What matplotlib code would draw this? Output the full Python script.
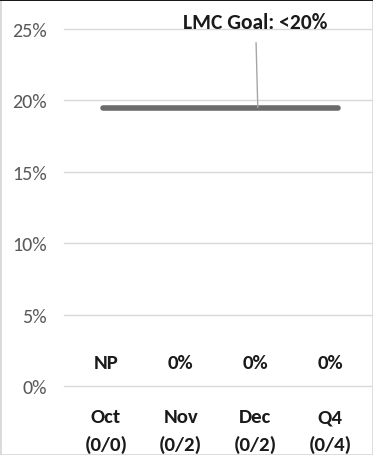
import matplotlib
matplotlib.use("Agg")
import matplotlib.pyplot as plt
from matplotlib.patches import Rectangle

# Monthly rates with numerator/denominator counts
months = ["Oct", "Nov", "Dec", "Q4"]
counts = ["(0/0)", "(0/2)", "(0/2)", "(0/4)"]
value_labels = ["NP", "0%", "0%", "0%"]
rates = [None, 0, 0, 0]
goal_value = 19.5
goal_text = "LMC Goal: <20%"
yticks = [0, 5, 10, 15, 20, 25]

plt.rcParams["font.family"] = ["Carlito", "DejaVu Sans"]

fig = plt.figure(figsize=(3.73, 4.56), dpi=100)
ax = fig.add_axes([64 / 373, 1 - 387 / 456, 1 - 64 / 373, 357 / 456])

x = list(range(len(months)))
ax.set_xlim(-0.56, 3.57)
ax.set_ylim(0, 25)

for t in yticks:
    ax.axhline(t, color="#d9d9d9", lw=1.0, zorder=0, clip_on=False)

ax.set_yticks(yticks)
ax.set_yticklabels([f"{t}%" for t in yticks], color="#595959", fontsize=14.5)
ax.tick_params(axis="y", length=0, pad=12.5)
ax.set_xticks(x)
ax.set_xticklabels([f"{m}\n{c}" for m, c in zip(months, counts)],
                   fontweight="bold", fontsize=15, color="#1a1a1a", linespacing=1.62)
ax.tick_params(axis="x", length=0, pad=16)
for s in ax.spines.values():
    s.set_visible(False)

# Goal line across the months
ax.plot([-0.04, 3.1], [goal_value, goal_value], color="#6b6b6b", lw=4,
        solid_capstyle="round", zorder=3)
ax.annotate(goal_text, xy=(2.03, goal_value), xytext=(2.0, 25.05),
            ha="center", va="baseline", fontsize=15.5, fontweight="bold", color="#1a1a1a",
            arrowprops=dict(arrowstyle="-", color="#a6a6a6", lw=1,
                            shrinkA=5.5, shrinkB=0), annotation_clip=False)

# Value labels above the baseline
for xi, lab in zip(x, value_labels):
    ax.text(xi, 1.62, lab, ha="center", va="center", fontsize=15,
            fontweight="bold", color="#1a1a1a")

# Frame
fig.patches.append(Rectangle((0, 0), 1, 1, transform=fig.transFigure,
                             fill=False, ec="#d9d9d9", lw=2))
fig.patches.append(Rectangle((0, 1 - 2 / 456), 1, 2 / 456, transform=fig.transFigure,
                             color="#1a1a1a", lw=0))

fig.savefig("out.png", dpi=100)
